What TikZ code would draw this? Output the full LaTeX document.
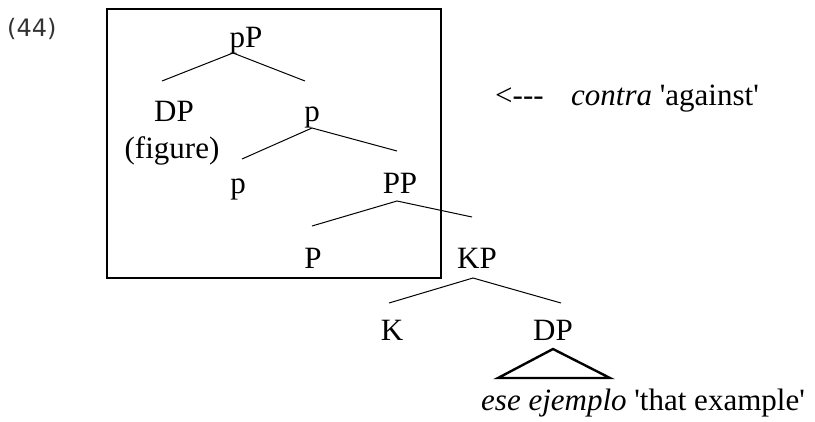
\documentclass[tikz,border=0pt]{standalone}
\usepackage{fontspec}
\setmainfont{Liberation Serif}[Ligatures=TeXOff]
\newfontfamily\numfont{DejaVu Sans}
\definecolor{numgray}{HTML}{333333}
\begin{document}
\begin{tikzpicture}[x=1pt,y=-1pt,
  lbl/.style={font=\fontsize{31}{36}\selectfont, inner sep=0pt, anchor=base},
  branch/.style={line width=1pt},
  thick box/.style={line width=2.4pt},
  tri/.style={line width=2.4pt, line join=miter}]
\useasboundingbox (0,0) rectangle (815,421);
% example number
\node[anchor=base west, inner sep=0pt, text=numgray, font=\numfont\fontsize{24}{28}\selectfont] (num) at (7,36) {(44)};
% box
\draw[thick box] (107,9) rectangle (441,278);
% tree labels
\node[lbl] (pP) at (246,47) {pP};
\node[lbl] (DPa) at (174,121) {DP};
\node[lbl] (fig) at (172,158) {(figure)};
\node[lbl] (pbar) at (312,121) {p};
\node[lbl] (phead) at (238,193) {p};
\node[lbl] (PP) at (400,193) {PP};
\node[lbl] (P) at (313,268) {P};
\node[lbl] (KP) at (477,268) {KP};
\node[lbl] (K) at (392,340) {K};
\node[lbl] (DPb) at (553,340) {DP};
\node[lbl, anchor=base west] (gloss) at (481,410) {\textit{ese ejemplo} 'that example'};
\node[lbl, anchor=base west] (arr) at (495,105) {<{-}{-}{-}};
\node[lbl, anchor=base west] (contra) at (571,105) {\textit{contra} 'against'};
% branch points
\coordinate (pPt) at (233,53);
\coordinate (pPl) at (162,81);
\coordinate (pPr) at (305,81);
\coordinate (pbt) at (312,128);
\coordinate (pbl) at (242,159);
\coordinate (pbr) at (397,151);
\coordinate (PPt) at (397,201);
\coordinate (PPl) at (312,226);
\coordinate (PPr) at (472,217);
\coordinate (KPt) at (473,278);
\coordinate (KPl) at (389,303);
\coordinate (KPr) at (561,303);
\coordinate (tt) at (553,349);
\coordinate (tl) at (498,378);
\coordinate (tr) at (610,378);
\draw[branch] (pPl) -- (pPt) -- (pPr);
\draw[branch] (pbl) -- (pbt) -- (pbr);
\draw[branch] (PPl) -- (PPt) -- (PPr);
\draw[branch] (KPl) -- (KPt) -- (KPr);
\draw[tri] (tt) -- (tl) -- (tr) -- cycle;
\end{tikzpicture}
\end{document}
